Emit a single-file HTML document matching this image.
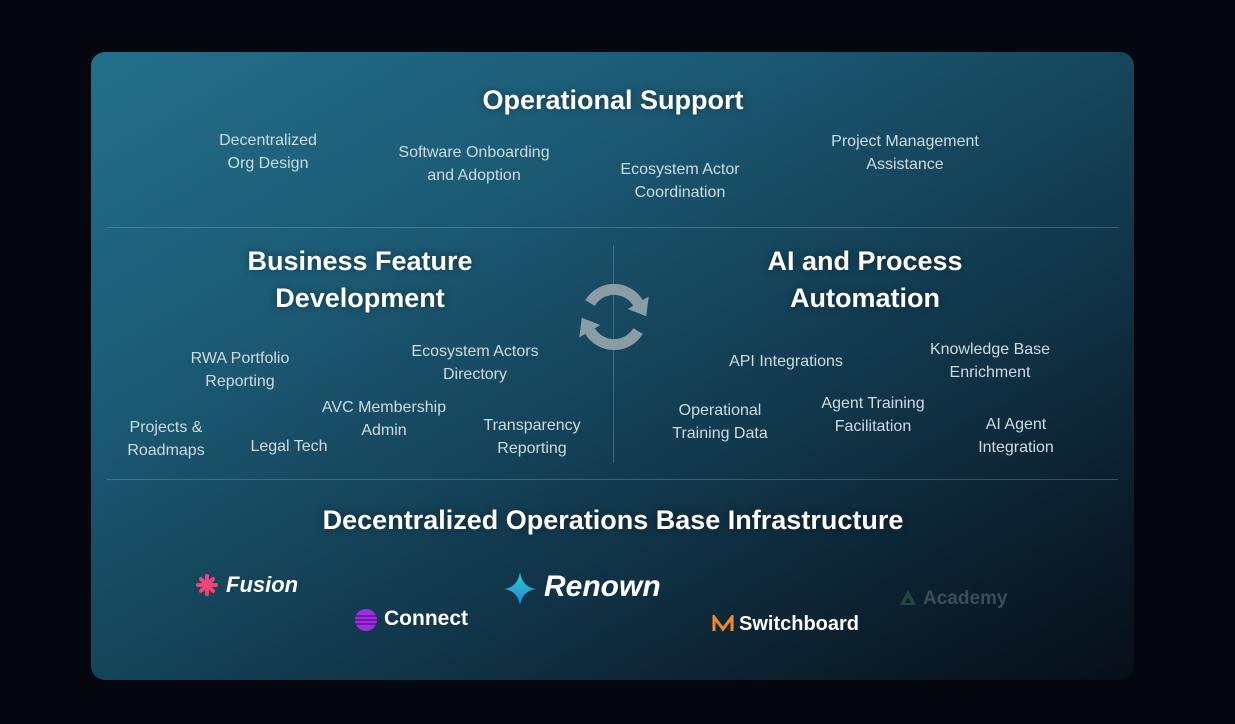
<!DOCTYPE html>
<html><head><meta charset="utf-8"><style>
html,body{margin:0;padding:0;width:1235px;height:724px;background:#05070f;overflow:hidden;font-family:"Liberation Sans",sans-serif}
.card{position:absolute;left:91px;top:52px;width:1043px;height:628px;border-radius:14px;background:linear-gradient(150deg,#236f8a 0%,#1c5a74 30%,#123a4f 60%,#0b1d2b 85%,#070e18 100%)}
.l{position:absolute;transform:translateX(-50%);white-space:nowrap;text-align:center;color:#cbdce5;font-size:16px;line-height:23px}
.h{position:absolute;transform:translateX(-50%);white-space:nowrap;text-align:center;color:#fff;font-weight:bold;font-size:27px;line-height:37px;text-shadow:0 0 8px rgba(0,0,0,.4)}
.hr{position:absolute;left:107px;width:1011px;height:1px;background:rgba(140,170,185,.35)}
.logo{position:absolute;color:#fff;font-weight:bold;white-space:nowrap}
</style></head><body>
<div class="card"></div>
<div class="hr" style="top:227px"></div>
<div class="hr" style="top:479px"></div>
<div style="position:absolute;left:613px;top:245px;width:1px;height:218px;background:rgba(140,170,185,.35)"></div>

<div class="h" style="left:613px;top:82px">Operational Support</div>
<div class="l" style="left:268px;top:129px">Decentralized<br>Org Design</div>
<div class="l" style="left:474px;top:141px">Software Onboarding<br>and Adoption</div>
<div class="l" style="left:680px;top:158px">Ecosystem Actor<br>Coordination</div>
<div class="l" style="left:905px;top:130px">Project Management<br>Assistance</div>

<div class="h" style="left:360px;top:243px">Business Feature<br>Development</div>
<div class="h" style="left:865px;top:243px">AI and Process<br>Automation</div>

<div class="l" style="left:240px;top:347px">RWA Portfolio<br>Reporting</div>
<div class="l" style="left:475px;top:340px">Ecosystem Actors<br>Directory</div>
<div class="l" style="left:384px;top:396px">AVC Membership<br>Admin</div>
<div class="l" style="left:166px;top:416px">Projects &amp;<br>Roadmaps</div>
<div class="l" style="left:289px;top:435px">Legal Tech</div>
<div class="l" style="left:532px;top:414px">Transparency<br>Reporting</div>

<div class="l" style="left:786px;top:350px">API Integrations</div>
<div class="l" style="left:990px;top:338px">Knowledge Base<br>Enrichment</div>
<div class="l" style="left:720px;top:399px">Operational<br>Training Data</div>
<div class="l" style="left:873px;top:392px">Agent Training<br>Facilitation</div>
<div class="l" style="left:1016px;top:413px">AI Agent<br>Integration</div>

<svg style="position:absolute;left:574px;top:277px" width="80" height="80" viewBox="0 0 80 80">
<g fill="none" stroke="#8a9ca6" stroke-width="11">
<path d="M16 26 A28 28 0 0 1 64 26"/>
<path d="M64 54 A28 28 0 0 1 16 54"/>
</g>
<polygon points="74.8,19.5 53.6,32 72.2,39.2" fill="#8a9ca6"/>
<polygon points="5.2,60.5 26.4,48 7.8,40.8" fill="#8a9ca6"/>
</svg>

<div class="h" style="left:613px;top:502px">Decentralized Operations Base Infrastructure</div>

<svg style="position:absolute;left:196px;top:574px" width="22" height="22" viewBox="0 0 22 22"><g stroke="#f0447a" stroke-width="4" stroke-linecap="round"><line x1="11" y1="2" x2="11" y2="20"/><line x1="2" y1="11" x2="20" y2="11"/><line x1="5" y1="5" x2="17" y2="17"/><line x1="17" y1="5" x2="5" y2="17"/></g></svg>
<div class="logo" style="left:226px;top:572px;font-size:22px;font-style:italic">Fusion</div>

<svg style="position:absolute;left:355px;top:609px" width="22" height="22"><circle cx="11" cy="11" r="11" fill="#a02ee0"/><g stroke="#5a1590" stroke-width="1.5"><line x1="0" y1="7" x2="22" y2="7"/><line x1="0" y1="11" x2="22" y2="11"/><line x1="0" y1="15" x2="22" y2="15"/></g></svg>
<div class="logo" style="left:384px;top:607px;font-size:21px">Connect</div>

<svg style="position:absolute;left:504px;top:572px" width="32" height="34" viewBox="0 0 32 34"><defs><linearGradient id="g" x1="0" y1="0" x2="0" y2="1"><stop offset="0" stop-color="#2ad6c0"/><stop offset="1" stop-color="#2a7ae0"/></linearGradient></defs><path d="M16 0 Q18 15 32 17 Q18 19 16 34 Q14 19 0 17 Q14 15 16 0Z" fill="url(#g)"/></svg>
<div class="logo" style="left:544px;top:570px;font-size:30px;font-style:italic">Renown</div>

<svg style="position:absolute;left:712px;top:615px" width="22" height="18" viewBox="0 0 22 18"><path d="M2 16 V2 L11 14 L20 2 V16" fill="none" stroke="#f28a20" stroke-width="3"/></svg>
<div class="logo" style="left:739px;top:613px;font-size:20px">Switchboard</div>

<svg style="position:absolute;left:899px;top:589px" width="18" height="18" viewBox="0 0 18 18"><path d="M9 1 L17 16 H1Z" fill="#1f4a44"/><path d="M9 8 L12 14 H6Z" fill="#0d1a22"/></svg>
<div class="logo" style="left:923px;top:588px;font-size:19px;color:#3e4c55">Academy</div>
</body></html>
